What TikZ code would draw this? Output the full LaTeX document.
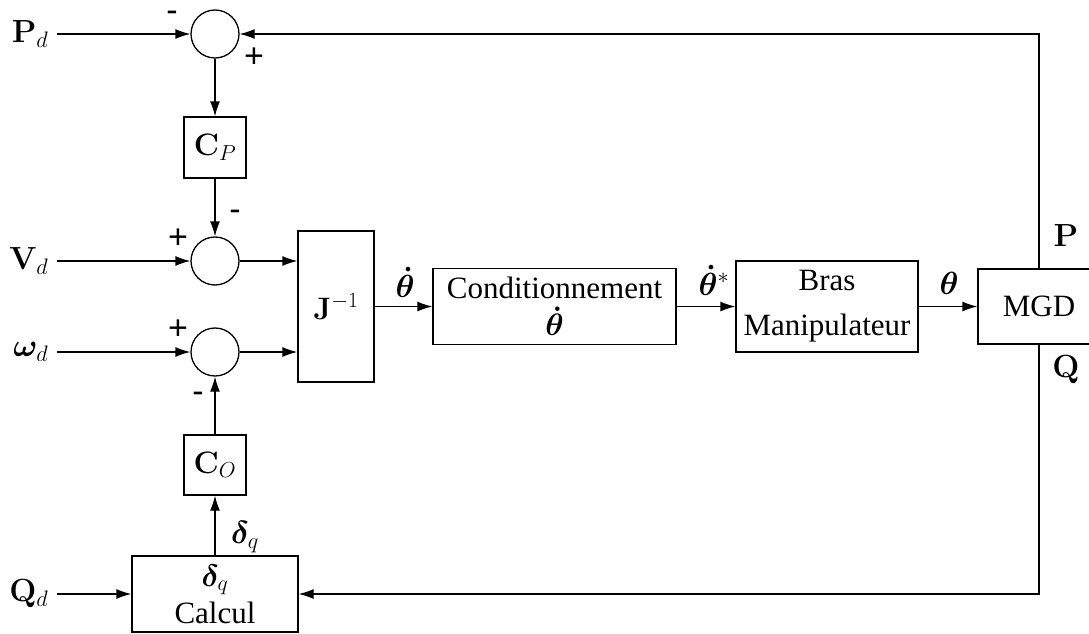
\RequirePackage{fix-cm}
\documentclass[tikz,border=0pt]{standalone}
\usepackage{amsmath,bm}
\usepackage[no-math]{fontspec}
\setmainfont{Liberation Serif}
\newfontfamily\sgnfont{Liberation Sans}
\usetikzlibrary{arrows.meta}
\begin{document}
\begin{tikzpicture}[x=1pt,y=-1pt, line width=1.3pt, >={Latex[length=15pt,width=10pt]},
 blk/.style={draw, rectangle, inner sep=0pt, align=center, font=\fontsize{31}{37}\selectfont},
 sum/.style={draw, circle, minimum size=48pt, inner sep=0pt},
 lbl/.style={font=\fontsize{32}{37}\selectfont, inner sep=0pt},
 inlbl/.style={lbl, anchor=east, inner xsep=8pt, inner ysep=0pt},
 sgn/.style={font=\sgnfont\fontsize{34}{38}\selectfont, inner sep=0pt}]
\useasboundingbox (0,0) rectangle (1089,634);
\clip (0,0) rectangle (1089,634);
% summing junctions
\node[sum] (s1) at (215,34) {};
\node[sum] (s2) at (215,261) {};
\node[sum] (s3) at (215,352) {};
% blocks
\node[blk, minimum width=62pt, minimum height=61pt] (cp) at (215,147.5) {$\mathbf{C}_P$};
\node[blk, minimum width=62pt, minimum height=60pt] (co) at (215,465) {$\mathbf{C}_O$};
\node[blk, minimum width=76pt, minimum height=151pt] (J) at (336,306.5) {$\mathbf{J}^{-1}$};
\node[blk, minimum width=243pt, minimum height=76pt] (cond) at (554.5,306.5) {Conditionnement\\$\bm{\dot\theta}$};
\node[blk, minimum width=182pt, minimum height=91pt] (bras) at (827,306.5) {Bras\\[8pt]Manipulateur};
\node[blk, minimum width=122pt, minimum height=75pt] (mgd) at (1039,306.5) {MGD};
\node[blk, minimum width=166pt, minimum height=76pt] (calc) at (215,594) {$\bm{\delta}_q$\\Calcul};
% inputs
\node[inlbl] (pd) at (57,34) {$\mathbf{P}_d$};
\node[inlbl] (vd) at (57,261) {$\mathbf{V}_d$};
\node[inlbl] (wd) at (57,352) {$\bm{\omega}_d$};
\node[inlbl] (qd) at (57,594) {$\mathbf{Q}_d$};
% connectors
\draw[->] (pd.east) -- (s1.west);
\draw[->] (s1) -- (cp);
\draw[->] (cp) -- (s2);
\draw[->] (vd.east) -- (s2.west);
\draw[->] (wd.east) -- (s3.west);
\draw[->] (s2.east) -- (J.west |- s2.east);
\draw[->] (s3.east) -- (J.west |- s3.east);
\draw[->] (co) -- (s3);
\draw[->] (calc) -- (co);
\draw[->] (qd.east) -- (calc.west);
\draw[->] (J.east) -- (cond.west);
\draw[->] (cond.east) -- (bras.west);
\draw[->] (bras.east) -- (mgd.west);
\draw[->] (mgd.north) |- (s1.east);
\draw[->] (mgd.south) |- (calc.east);
% signal labels
\node[lbl] (lthd) at (405,282) {$\bm{\dot\theta}$};
\node[lbl] (lths) at (714,280) {$\bm{\dot\theta}^{*}$};
\node[lbl] (lth) at (949,283) {$\bm{\theta}$};
\node[lbl] (ldq) at (245,537) {$\bm{\delta}_q$};
\node[lbl] (lP) at (1066,236) {$\mathbf{P}$};
\node[lbl] (lQ) at (1066,370) {$\mathbf{Q}$};
% signs
\node[sgn] (m1) at (172,16) {-};
\node[sgn] (p1) at (254,58) {+};
\node[sgn] (m2) at (235,215) {-};
\node[sgn] (p2) at (178,239) {+};
\node[sgn] (p3) at (178,330) {+};
\node[sgn] (m3) at (198,397) {-};
\end{tikzpicture}
\end{document}
